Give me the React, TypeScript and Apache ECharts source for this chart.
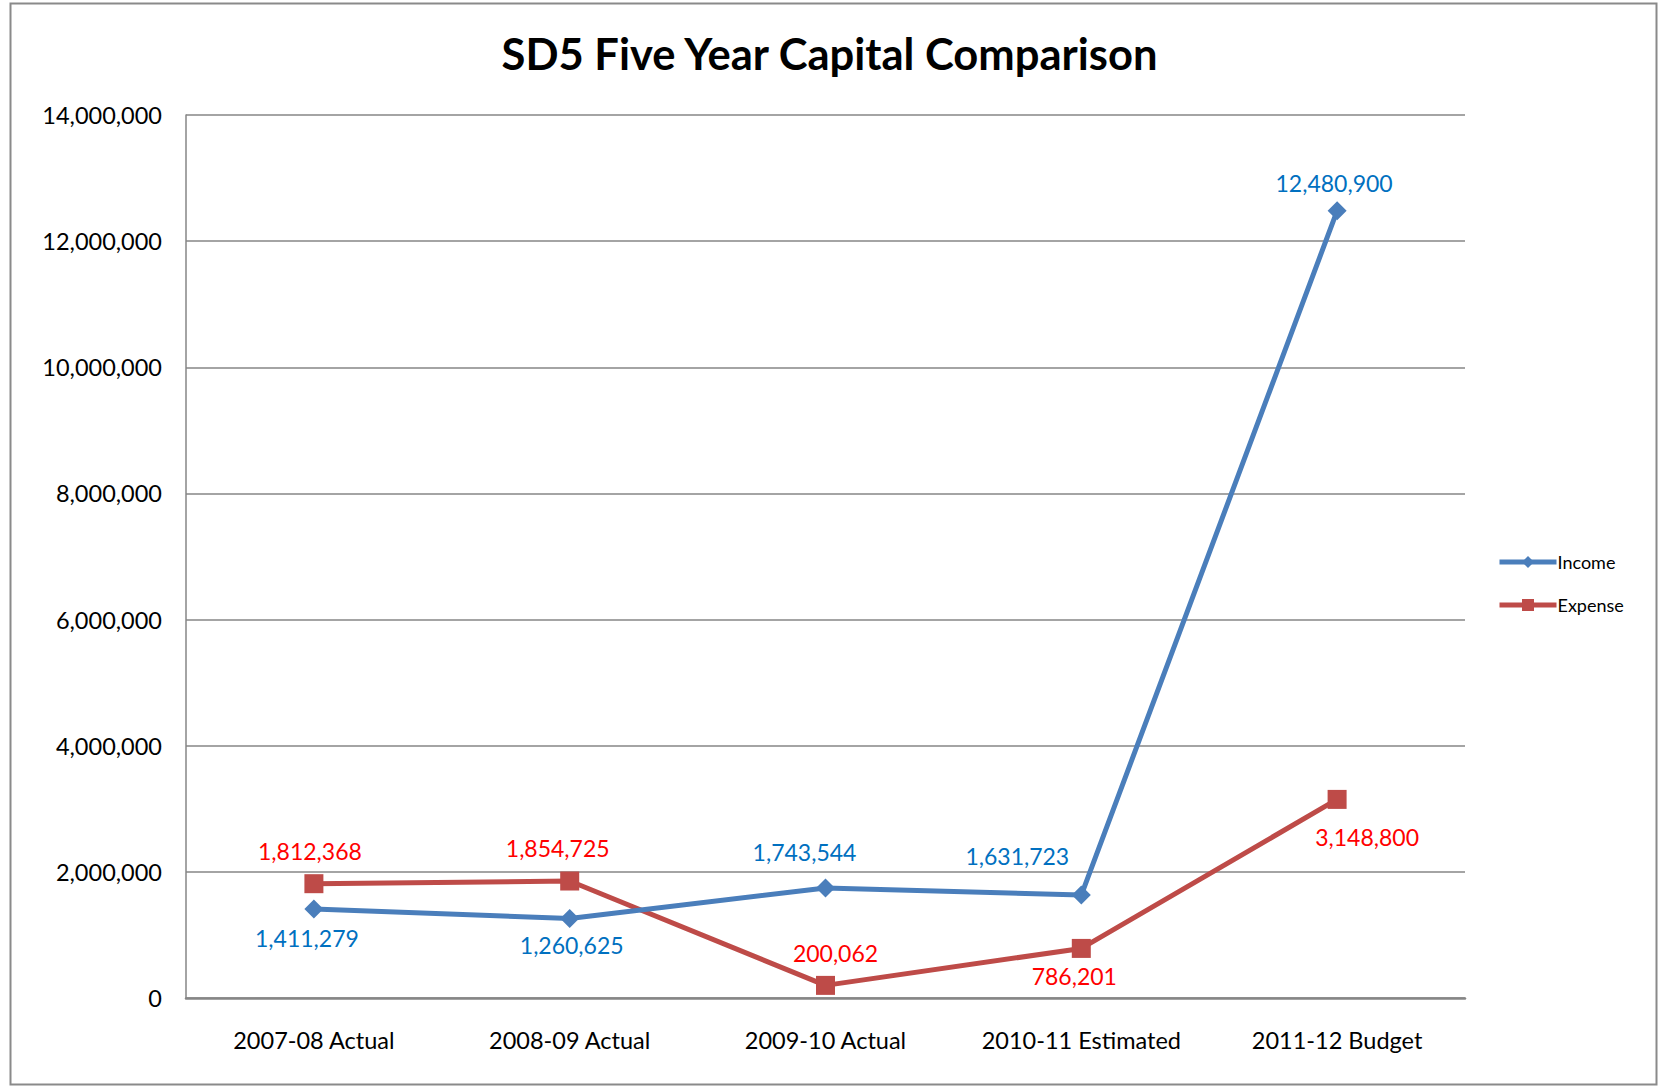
import React, { useEffect, useRef } from "react";
import * as echarts from "echarts";

const categories = ["2007-08 Actual", "2008-09 Actual", "2009-10 Actual", "2010-11 Estimated", "2011-12 Budget"];
const incomeValues = [1411279, 1260625, 1743544, 1631723, 12480900];
const expenseValues = [1812368, 1854725, 200062, 786201, 3148800];
const incomeLabelPos = ["bottom", "bottom", "top", "top", "top"];
const expenseLabelPos = ["top", "top", "top", "bottom", "bottom"];
const incomeLabelOffset = [[-7, -4], [2, -6], [-21, -3], [-64, -6], [-3, 5]];
const expenseLabelOffset = [[-4, 0], [-12, 0], [10, 1], [-7, -5], [30, 5]];

const FONT = "Lato, 'Open Sans', sans-serif";
const fmt = (v: number) => v.toLocaleString("en-US");

export default function App() {
  const ref = useRef<HTMLDivElement>(null);
  useEffect(() => {
    if (!ref.current) return;
    const chart = echarts.init(ref.current, undefined, { renderer: "svg" });
    chart.setOption({
      animation: false,
      backgroundColor: "#ffffff",
      title: {
        text: "SD5 Five Year Capital Comparison",
        left: "center",
        top: 26,
        textStyle: { fontFamily: FONT, fontWeight: "bold", fontSize: 43.5, color: "#000" },
      },
      graphic: [
        {
          type: "rect",
          shape: { x: 10.5, y: 3.5, width: 1646, height: 1081 },
          style: { fill: "none", stroke: "#8a8a8a", lineWidth: 2 },
          silent: true,
        },
      ],
      legend: {
        orient: "vertical",
        left: 1492,
        top: 548,
        itemWidth: 57,
        itemHeight: 15,
        itemGap: 25,
        lineStyle: { width: 5 },
        textStyle: { fontFamily: FONT, fontSize: 18, color: "#000", padding: [0, 0, 0, -4] },
        data: ["Income", "Expense"],
      },
      grid: { left: 186, right: 194, top: 115, bottom: 89 },
      xAxis: {
        type: "category",
        data: categories,
        boundaryGap: true,
        axisLine: { lineStyle: { color: "#868686", width: 2.5 } },
        axisTick: { show: false },
        axisLabel: {
          fontFamily: FONT,
          fontSize: 23.5,
          color: "#000",
          margin: 30,
          interval: 0,
          hideOverlap: false,
        },
      },
      yAxis: {
        type: "value",
        min: 0,
        max: 14000000,
        interval: 2000000,
        axisLine: { show: true, lineStyle: { color: "#868686", width: 1.5 } },
        axisTick: { show: false },
        splitLine: { lineStyle: { color: "#868686", width: 1.5 } },
        axisLabel: {
          fontFamily: FONT,
          fontSize: 23.5,
          color: "#000",
          margin: 24,
          formatter: (v: number) => fmt(v),
        },
      },
      series: [
        {
          name: "Income",
          type: "line",
          data: incomeValues.map((v, i) => ({
            value: v,
            label: { position: incomeLabelPos[i], offset: incomeLabelOffset[i] },
          })),
          symbol: "diamond",
          symbolSize: 19,
          color: "#4A7EBB",
          lineStyle: { color: "#4A7EBB", width: 5 },
          itemStyle: { color: "#4A7EBB" },
          label: {
            show: true,
            fontFamily: FONT,
            fontSize: 23,
            color: "#0070C0",
            distance: 12,
            formatter: (p: any) => fmt(p.value),
          },
          z: 3,
        },
        {
          name: "Expense",
          type: "line",
          data: expenseValues.map((v, i) => ({
            value: v,
            label: { position: expenseLabelPos[i], offset: expenseLabelOffset[i] },
          })),
          symbol: "rect",
          symbolSize: 19,
          color: "#BE4B48",
          lineStyle: { color: "#BE4B48", width: 5 },
          itemStyle: { color: "#BE4B48" },
          label: {
            show: true,
            fontFamily: FONT,
            fontSize: 23,
            color: "#FF0000",
            distance: 12,
            formatter: (p: any) => fmt(p.value),
          },
          z: 2,
        },
      ],
    });
    return () => chart.dispose();
  }, []);
  return (
    <div
      ref={ref}
      style={{ position: "fixed", left: 0, top: 0, width: 1659, height: 1087 }}
    />
  );
}
